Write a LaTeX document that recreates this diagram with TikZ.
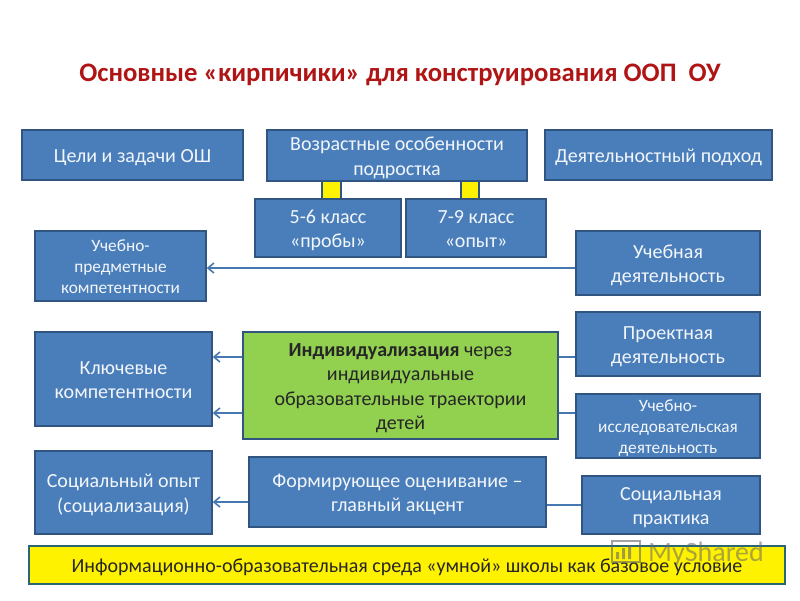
\documentclass[tikz,border=0pt]{standalone}
\usepackage{fontspec}
\setmainfont{Carlito}
\usetikzlibrary{arrows.meta}
\definecolor{bfill}{HTML}{4A7EBB}
\definecolor{bline}{HTML}{2F5580}
\definecolor{gfill}{HTML}{92D050}
\definecolor{titlered}{HTML}{B01515}
\definecolor{wtext}{HTML}{F2F6FA}
\newcommand{\bx}[7]{%
  \pgfmathsetmacro{\cxx}{(#3+#5)/2}\pgfmathsetmacro{\cyy}{(#4+#6)/2}%
  \pgfmathsetmacro{\ww}{#5-#3}\pgfmathsetmacro{\hh}{#6-#4}%
  \node[#2,minimum width=\ww pt,minimum height=\hh pt] (#1) at (\cxx,\cyy) {\raisebox{-0.39em}[0pt][0pt]{\begin{tabular}{@{}c@{}}#7\end{tabular}}};}
\tikzset{
  box/.style={draw=bline,line width=1.4pt,fill=bfill,text=wtext,inner sep=0pt,font=\fontsize{20}{24.5}\selectfont},
  smallbox/.style={box,font=\fontsize{17.3}{21}\selectfont},
  greenbox/.style={box,fill=gfill,text=black!85,draw=bline},
  yellowbar/.style={box,fill=yellow,text=black!85,draw=bline!90!green,line width=1.8pt},
  tabbox/.style={draw=bline,line width=1.4pt,fill=yellow,inner sep=0pt},
  link/.style={draw=bfill!95!black,line width=1.6pt},
  arr/.style={link,-{Straight Barb[length=6pt,width=10pt,line width=1.6pt]}},
  heading/.style={text=titlered,font=\fontsize{26.7}{30}\selectfont\bfseries,inner sep=0pt},
  wmark/.style={text=black!60,opacity=.55,font=\fontsize{28}{30}\selectfont,inner sep=0pt}
}
\begin{document}
\begin{tikzpicture}[x=1pt,y=-1pt]
\useasboundingbox[fill=white] (0,0) rectangle (800,600);
\node[heading] (title) at (400,75) {Основные «кирпичики» для конструирования ООП~ ОУ};
\bx{t1}{tabbox}{322}{178}{341}{201}{}
\bx{t2}{tabbox}{461}{178}{479}{201}{}
\bx{goal}{box}{22}{130}{243}{180}{Цели и задачи ОШ}
\bx{age}{box}{267}{130}{527}{181}{Возрастные особенности\\подростка}
\bx{act}{box}{545}{130}{772}{180}{Деятельностный подход}
\bx{g56}{box}{255}{199}{401}{257}{5-6 класс\\«пробы»}
\bx{g79}{box}{406}{199}{546}{257}{7-9 класс\\«опыт»}
\bx{subj}{smallbox}{35}{231}{206}{301}{Учебно-\\предметные\\компетентности}
\bx{study}{box}{576}{231}{760}{295}{Учебная\\деятельность}
\bx{key}{box}{35}{332}{212}{426}{Ключевые\\компетентности}
\bx{ind}{greenbox}{243}{332}{558}{439}{\textbf{Индивидуализация} через\\индивидуальные\\образовательные траектории\\детей}
\bx{proj}{box}{576}{312}{760}{376}{Проектная\\деятельность}
\bx{res}{smallbox}{576}{394}{760}{458}{Учебно-\\исследовательская\\деятельность}
\bx{soc}{box}{35}{451}{212}{534}{Социальный опыт\\(социализация)}
\bx{form}{box}{249}{457}{546}{527}{Формирующее оценивание –\\главный акцент}
\bx{prac}{box}{582}{476}{760}{534}{Социальная\\практика}
\bx{env}{yellowbar}{29}{546}{785}{584}{Информационно-образовательная среда «умной» школы как базовое условие}
\path[arr] (study.west |- 0,268) -- (subj.east |- 0,268);
\path[arr] (ind.west |- 0,357) -- (key.east |- 0,357);
\path[arr] (ind.west |- 0,413) -- (key.east |- 0,413);
\path[link] (proj.west |- 0,357) -- (ind.east |- 0,357);
\path[link] (res.west |- 0,413) -- (ind.east |- 0,413);
\path[arr] (form.west |- 0,502) -- (soc.east |- 0,502);
\path[link] (prac.west |- 0,505) -- (form.east |- 0,505);
\node[wmark,anchor=west] (wm) at (648,554) {MyShared};
\draw[black!60,opacity=.6,line width=1.2pt] (612,541) -- (640,541) -- (640,562) -- (612,562) -- cycle;
\fill[black!60,opacity=.6] (616,552) rectangle (619,559) (622,548) rectangle (625,559) (628,545) rectangle (631,559);
\end{tikzpicture}
\end{document}
